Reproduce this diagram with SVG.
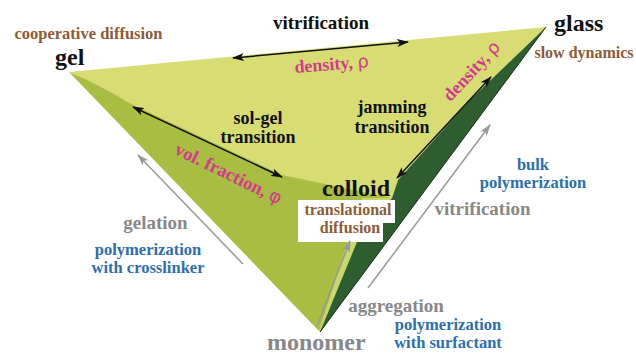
<svg xmlns="http://www.w3.org/2000/svg" width="636" height="355" viewBox="0 0 636 355" font-family="'Liberation Serif', 'DejaVu Serif', 'Times New Roman', serif" font-weight="bold">
<style>
.vtx{font-size:24px;fill:#111}
.blk{font-size:18px;fill:#111}
.brn{font-size:16px;fill:#8d5b35}
.mag{font-size:18px;fill:#d33a8c}
.gry{font-size:19px;fill:#888}
.blu{font-size:16.5px;fill:#2c6fb0}
.sym{font-family:'DejaVu Sans',sans-serif;font-weight:normal}
.ba{stroke:#111;stroke-width:1.5;fill:none;marker-start:url(#ak);marker-end:url(#ak)}
.ga{stroke:#999;stroke-width:1.5;fill:none;marker-end:url(#ag)}
</style>
<defs>
<marker id="ak" viewBox="0 0 12 8" refX="11" refY="4" markerWidth="12" markerHeight="8" markerUnits="userSpaceOnUse" orient="auto-start-reverse"><path d="M0,0 L12,4 L0,8 L3,4 Z" fill="#111"/></marker>
<marker id="ag" viewBox="0 0 12 8" refX="11" refY="4" markerWidth="12" markerHeight="8" markerUnits="userSpaceOnUse" orient="auto"><path d="M0,0 L12,4 L0,8 L3,4 Z" fill="#999"/></marker>
</defs>
<g id="solid">
<path d="M69,72 L392,198 L319,331 Z" fill="#a8bd42"/>
<path d="M69,72 L546,27 L470,100 L398,180 L392,198 L282,175 L131,104 Q98,84 69,72 Z" fill="#d7dd73"/>
<path d="M319,331 L362,198 L392,198 L321,332 Z" fill="#c9d86a"/>
<path d="M546,27 L470,100 L398,180 L392,198 L357,242 L320,332 Z" fill="#2e5e30"/>
<line x1="546" y1="27" x2="320" y2="332" stroke="#1a2a1a" stroke-width="1"/>
</g>
<g id="node-colloid-box"><path d="M298,200 L395,200 L395,223 L383,223 L383,242 L298,242 Z" fill="#fff"/></g>
<g id="connectors">
<line class="ba" x1="233" y1="58" x2="408" y2="42"/>
<line class="ba" x1="133" y1="107" x2="282" y2="177"/>
<line class="ba" x1="491" y1="77" x2="397" y2="178"/>
<line class="ga" x1="243" y1="264" x2="138" y2="155"/>
<line class="ga" x1="368" y1="288" x2="490" y2="125"/>
<line class="ga" x1="317" y1="326" x2="350" y2="241"/>
</g>
<g id="node-gel">
<text class="brn" x="88.5" y="39" text-anchor="middle" style="font-size:16.5px">cooperative diffusion</text>
<text class="vtx" x="55" y="65">gel</text>
</g>
<g id="node-glass">
<text class="vtx" x="554" y="31">glass</text>
<text class="brn" x="584" y="58" text-anchor="middle">slow dynamics</text>
</g>
<g id="node-colloid">
<text class="vtx" x="322" y="196">colloid</text>
<text class="brn" x="348" y="215" text-anchor="middle">translational</text>
<text class="brn" x="350" y="233" text-anchor="middle">diffusion</text>
</g>
<g id="node-monomer">
<text class="vtx" x="267" y="350" style="fill:#888">monomer</text>
</g>
<g id="labels">
<text class="blk" x="321" y="29" text-anchor="middle" style="font-size:19px">vitrification</text>
<text class="mag" transform="translate(332,70) rotate(-4.5)" text-anchor="middle">density, <tspan class="sym">ρ</tspan></text>
<text class="mag" transform="translate(476,75) rotate(-47)" text-anchor="middle">density, <tspan class="sym">ρ</tspan></text>
<text class="blk" x="258" y="124" text-anchor="middle">sol-gel</text>
<text class="blk" x="258" y="143" text-anchor="middle">transition</text>
<text class="blk" x="392" y="113" text-anchor="middle">jamming</text>
<text class="blk" x="392" y="133" text-anchor="middle">transition</text>
<text class="mag" transform="translate(226,179) rotate(26)" text-anchor="middle" style="font-size:18.5px">vol. fraction, <tspan class="sym">φ</tspan></text>
<text class="gry" x="155.5" y="229" text-anchor="middle">gelation</text>
<text class="blu" x="148" y="255" text-anchor="middle">polymerization</text>
<text class="blu" x="148" y="273" text-anchor="middle">with crosslinker</text>
<text class="gry" x="482.5" y="215" text-anchor="middle">vitrification</text>
<text class="blu" x="533" y="170" text-anchor="middle">bulk</text>
<text class="blu" x="533" y="188" text-anchor="middle">polymerization</text>
<text class="gry" x="396" y="312" text-anchor="middle">aggregation</text>
<text class="blu" x="448" y="330" text-anchor="middle">polymerization</text>
<text class="blu" x="448" y="348" text-anchor="middle">with surfactant</text>
</g>
</svg>
